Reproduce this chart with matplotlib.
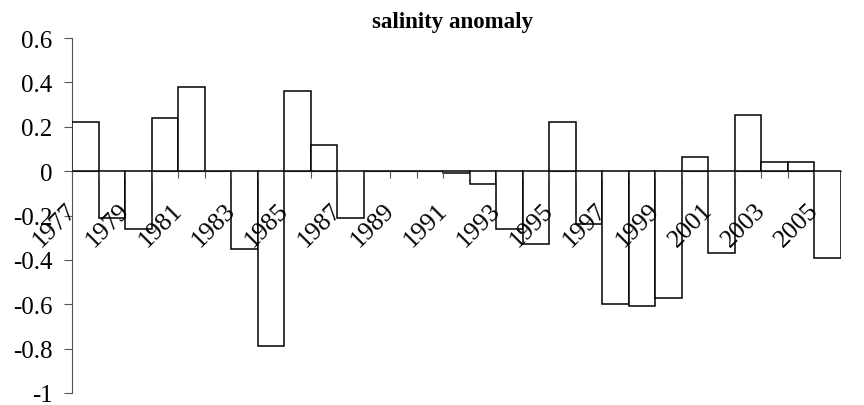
import matplotlib
matplotlib.use('Agg')
import matplotlib.pyplot as plt
import matplotlib.transforms as mtrans
import numpy as np

years=list(range(1977,2006))
anomaly=[0.22,-0.21,-0.26,0.24,0.38,0.0,-0.35,-0.79,0.36,0.12,-0.21,0.0,0.0,0.0,
         -0.01,-0.06,-0.26,-0.33,0.22,-0.24,-0.60,-0.61,-0.57,0.065,-0.37,0.255,0.04,0.04,-0.39]
yticks=[0.6,0.4,0.2,0,-0.2,-0.4,-0.6,-0.8,-1]
ylabels=['0.6','0.4','0.2','0','-0.2','-0.4','-0.6','-0.8','-1']

plt.rcParams['font.family']=['Liberation Serif','DejaVu Serif']
axcol='#555555'

fig=plt.figure(figsize=(8.64,4.06),dpi=100)
ax=fig.add_axes([72/864,1-394/406,(841-72)/864,(394-39)/406])
x=np.arange(len(years))
ax.bar(x,anomaly,width=1.0,color='white',edgecolor='black',linewidth=1.1,zorder=3)
ax.set_xlim(-0.5,len(years)-0.5)
ax.set_ylim(-1,0.6)

for s in ['top','right']:
	ax.spines[s].set_visible(False)
ax.spines['bottom'].set_position(('data',0))
ax.spines['bottom'].set_color(axcol)
ax.spines['left'].set_color(axcol)
ax.spines['bottom'].set_linewidth(0.8)
ax.spines['left'].set_linewidth(0.8)

ax.set_yticks(yticks)
ax.set_yticklabels(ylabels,fontsize=18)
ax.tick_params(axis='y',direction='out',length=6,width=0.8,color=axcol,pad=8)

pos=x-0.5
lab=[str(y) if i%2==0 else '' for i,y in enumerate(years)]
ax.set_xticks(pos)
ax.set_xticklabels(lab,fontsize=18.5,rotation=45,ha='right',rotation_mode='anchor')
ax.tick_params(axis='x',direction='out',length=5,width=0.8,color=axcol,pad=15)
off=mtrans.ScaledTranslation(-7/100,0,fig.dpi_scale_trans)
for t in ax.get_xticklabels():
	t.set_transform(t.get_transform()+off)
ax.xaxis.set_zorder(4)

fig.text(0.524,1-28/406,'salinity anomaly',ha='center',va='baseline',fontsize=16.5,fontweight='bold')
plt.savefig('out.png',dpi=100)
